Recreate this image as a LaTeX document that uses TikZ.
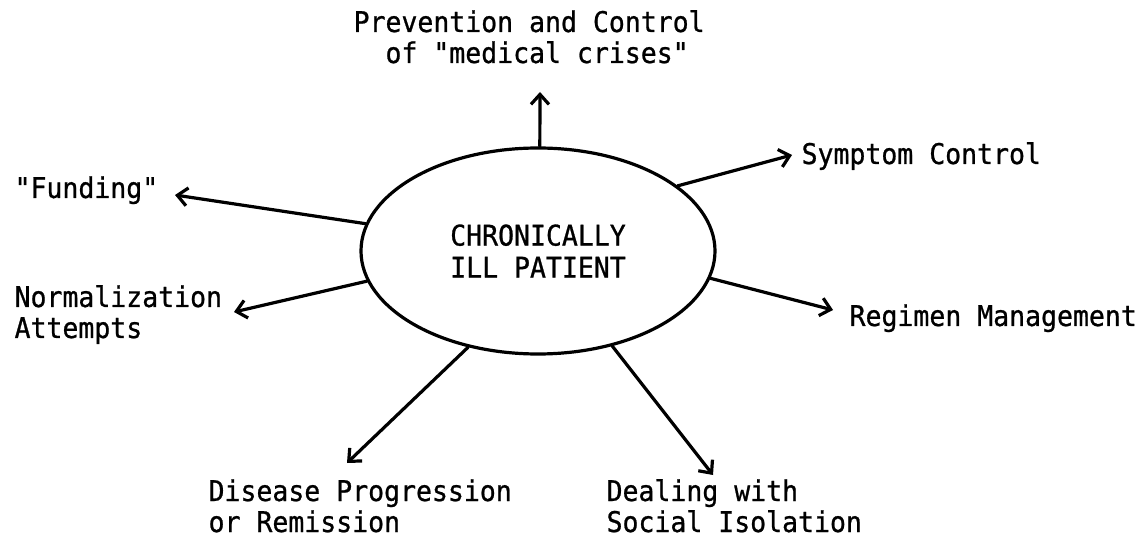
\documentclass[tikz,border=0pt]{standalone}
\usepackage{fontspec}
\setmonofont[FakeStretch=0.93, FakeBold=0.8]{DejaVu Sans Mono}
\usetikzlibrary{shapes.geometric,arrows.meta}
\begin{document}
\begin{tikzpicture}[x=1pt, y=-1pt, line width=3.2pt,
		lbl/.style = {anchor=base west, align=left, inner sep=0pt,
			font=\fontsize{28.5}{31}\selectfont\ttfamily},
		arr/.style = {-{Straight Barb[length=10pt, width=18pt]}, line cap=round}]
	\useasboundingbox (0,0) rectangle (1144,537);
	\node[draw, ellipse, minimum width=354pt, minimum height=206pt, inner sep=0pt,
		align=center, font=\fontsize{28.5}{32}\selectfont\ttfamily] at (538,251) (pat)
		{CHRONICALLY\\ILL PATIENT};
	\node[lbl] at (352,63) (prev) {Prevention and Control\\\hphantom{xx}of "medical crises"};
	\node[lbl] at (800,164) (sym) {Symptom Control};
	\node[lbl] at (13,198) (fund) {"Funding"};
	\node[lbl] at (13,338) (norm) {Normalization\\Attempts};
	\node[lbl] at (848,326) (reg) {Regimen Management};
	\node[lbl] at (207,532) (dis) {Disease Progression\\or Remission};
	\node[lbl] at (605,532) (soc) {Dealing with\\Social Isolation};
	\coordinate (t1) at (540,92);
	\coordinate (t2) at (792,155);
	\coordinate (t3) at (175,195);
	\coordinate (t4) at (234,312);
	\coordinate (t5) at (833,310);
	\coordinate (t6) at (347,463);
	\coordinate (t7) at (713,475);
	\draw[arr] (pat.89) -- (t1);
	\draw[arr] (pat.25) -- (t2);
	\draw[arr] (pat.171.5) -- (t3);
	\draw[arr] (pat.190.7) -- (t4);
	\draw[arr] (pat.351.4) -- (t5);
	\draw[arr] (pat.234.2) -- (t6);
	\draw[arr] (pat.308.2) -- (t7);
\end{tikzpicture}
\end{document}
